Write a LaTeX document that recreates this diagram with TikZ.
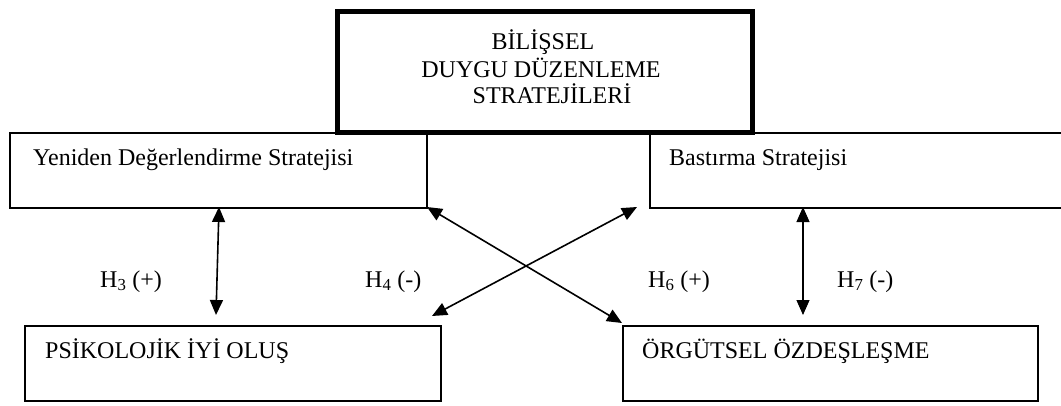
\documentclass[tikz,border=0pt]{standalone}
\usepackage{fontspec}
\setmainfont{Liberation Serif}
\usetikzlibrary{arrows.meta}
\tikzset{
  box/.style={draw=black, line width=1.6pt, rectangle, inner sep=0pt, anchor=north west},
  mainbox/.style={draw=black, line width=4.6pt, rectangle, inner sep=0pt, anchor=north west},
  txt/.style={inner sep=0pt, font=\fontsize{24}{28}\selectfont},
  arr/.style={line width=1.6pt, {Triangle[length=15pt,width=13pt]}-{Triangle[length=15pt,width=13pt]}},
}
\begin{document}
\begin{tikzpicture}[x=1pt,y=-1pt]
\useasboundingbox (0,0) rectangle (1061,405);
\begin{scope}
\clip (0,0) rectangle (1061,405);
% lower-level boxes
\node[box, minimum width=417pt, minimum height=75pt] (yen) at (9,132) {};
\node[box, minimum width=420pt, minimum height=75pt] (bas) at (649,132) {};
\node[box, minimum width=416pt, minimum height=75pt] (psi) at (24,325) {};
\node[box, minimum width=415pt, minimum height=75pt] (org) at (622,325) {};
% top box
\node[mainbox, minimum width=415pt, minimum height=121pt] (top) at (335,9) {};
\end{scope}
% texts
\node[txt, anchor=base] (t1) at (543,49) {BİLİŞSEL};
\node[txt, anchor=base] (t2) at (541,77) {DUYGU DÜZENLEME};
\node[txt, anchor=base] (t3) at (552,103) {STRATEJİLERİ};
\node[txt, anchor=base west] (yent) at (33,165) {Yeniden Değerlendirme Stratejisi};
\node[txt, anchor=base west] (bast) at (669,165) {Bastırma Stratejisi};
\node[txt, anchor=base west] (psit) at (45,358) {PSİKOLOJİK İYİ OLUŞ};
\node[txt, anchor=base west] (orgt) at (642,358) {ÖRGÜTSEL ÖZDEŞLEŞME};
% hypothesis labels
\node[txt, anchor=base west] (h3) at (100,287) {H\textsubscript{3} (+)};
\node[txt, anchor=base west] (h4) at (365,287) {H\textsubscript{4} (-)};
\node[txt, anchor=base west] (h6) at (648,287) {H\textsubscript{6} (+)};
\node[txt, anchor=base west] (h7) at (837,287) {H\textsubscript{7} (-)};
% arrow end points
\coordinate (a3t) at (219,207);
\coordinate (a3b) at (216,315);
\coordinate (a7t) at (803,207);
\coordinate (a7b) at (803,315);
\coordinate (xa1) at (427,207);
\coordinate (xa2) at (622,323);
\coordinate (xb1) at (637,207);
\coordinate (xb2) at (432,316);
% arrows
\draw[arr] (a3t) -- (a3b);
\draw[arr, line width=1.1pt] (a7t) -- (a7b);
\draw[arr] (xa1) -- (xa2);
\draw[arr] (xb1) -- (xb2);
\end{tikzpicture}
\end{document}
